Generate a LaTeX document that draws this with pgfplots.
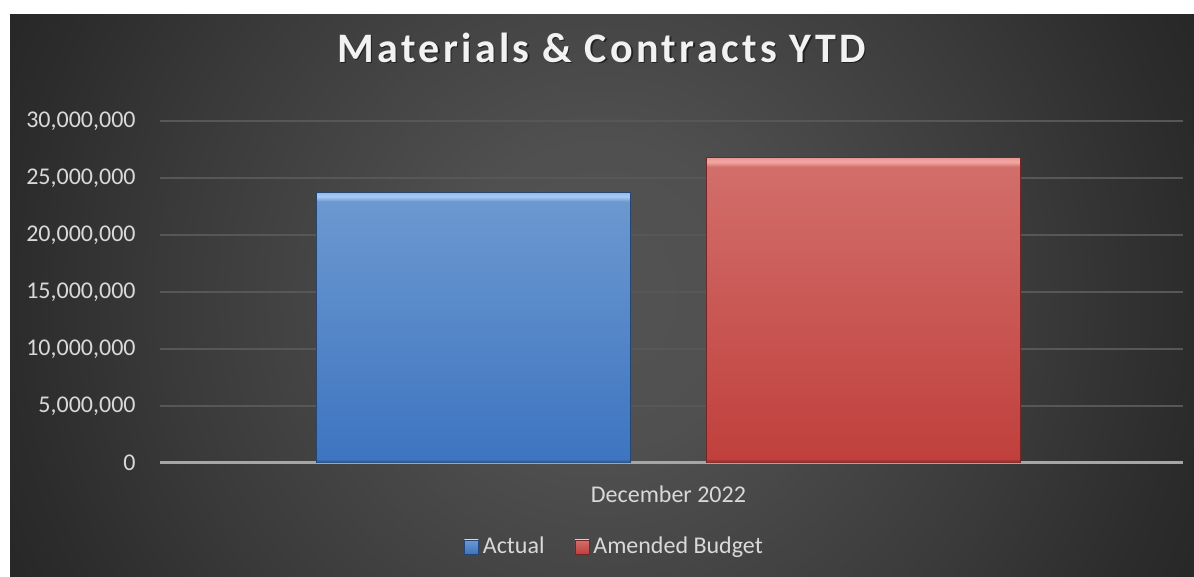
\documentclass[border=0pt]{standalone}
\usepackage{pgfplots}
\pgfplotsset{compat=1.18}
\usepackage{fontspec}
\setmainfont{Carlito}
\newfontfamily\titlefont[LetterSpace=8]{Carlito}

\definecolor{txt}{HTML}{D9D9D9}
\definecolor{gridc}{HTML}{575757}
\definecolor{zeroline}{HTML}{A6A6A6}
\definecolor{actTop}{HTML}{6C98D0}
\definecolor{actBot}{HTML}{3D75C0}
\definecolor{actHi}{HTML}{A9CBF4}
\definecolor{budTop}{HTML}{D26E6A}
\definecolor{budBot}{HTML}{C0403D}
\definecolor{budHi}{HTML}{F4A8A4}

% pgf maps the 25bp..75bp part of a shading onto the path's box
\pgfdeclareradialshading{bgshade}{\pgfpoint{0bp}{0bp}}{%
  color(0bp)=(rgb,255:red,83;green,83;blue,83);
  color(5.7bp)=(rgb,255:red,80;green,80;blue,80);
  color(9.5bp)=(rgb,255:red,72;green,72;blue,72);
  color(16.3bp)=(rgb,255:red,58;green,58;blue,58);
  color(22.3bp)=(rgb,255:red,44;green,44;blue,44);
  color(25bp)=(rgb,255:red,39;green,39;blue,39);
  color(50bp)=(rgb,255:red,39;green,39;blue,39)}
\pgfdeclareverticalshading{actshade}{100bp}{%
  color(0bp)=(actBot!65!black); color(25bp)=(actBot!65!black); color(25.7bp)=(actBot);
  color(73.4bp)=(actTop); color(74.3bp)=(actHi); color(75bp)=(actHi!70!actTop); color(100bp)=(actHi!70!actTop)}
\pgfdeclareverticalshading{budshade}{100bp}{%
  color(0bp)=(budBot!65!black); color(25bp)=(budBot!65!black); color(25.7bp)=(budBot);
  color(73.5bp)=(budTop); color(74.3bp)=(budHi); color(75bp)=(budHi!70!budTop); color(100bp)=(budHi!70!budTop)}

\begin{document}
\begin{tikzpicture}
\useasboundingbox (0,0) rectangle (597pt,288.5pt);
\fill[white] (0,0) rectangle (597pt,288.5pt);
\begin{scope}
\clip (5pt,0) rectangle (597pt,281pt);
\shade[shading=bgshade] (-29pt,-189.5pt) rectangle (631pt,470.5pt);
\end{scope}

\begin{axis}[
    at={(80pt,57pt)}, anchor=south west,
    scale only axis, width=511.5pt, height=171pt,
    xmin=-0.994, xmax=1.006, ymin=0, ymax=30000000,
    ybar=38pt, bar width=157pt,
    xtick={0}, xticklabels={December 2022},
    ytick={0,5000000,10000000,15000000,20000000,25000000,30000000},
    extra y ticks={0}, extra y tick labels={},
    extra y tick style={grid style={draw=zeroline, line width=1.5pt}},
    scaled y ticks=false,
    /pgf/number format/assume math mode=true,
    yticklabel style={/pgf/number format/fixed, /pgf/number format/1000 sep={,},
        inner sep=0pt, xshift=-12pt, anchor=east},
    xticklabel style={inner sep=0pt, anchor=north, yshift=-11pt},
    tick label style={text=txt, font=\fontsize{12}{14}\selectfont},
    major tick length=0pt,
    axis line style={draw=none},
    ymajorgrids, grid style={draw=gridc, line width=0.75pt},
    legend columns=2,
    legend style={at={(axis description cs:0.4315,0)}, anchor=center, xshift=7pt, yshift=-42pt,
        draw=none, fill=none, text=txt, inner sep=0pt,
        font=\fontsize{12}{14}\selectfont,
        /tikz/every even column/.append style={column sep=13pt}},
    legend image code/.code={\path[#1] (0pt,-3.5pt) rectangle (7pt,3.5pt);},
]
\addplot[draw=actBot!60!black, line width=0.4pt, shading=actshade]
    coordinates {(0,23700000)};
\addplot[draw=budBot!60!black, line width=0.4pt, shading=budshade]
    coordinates {(0,26780000)};
\legend{Actual, Amended Budget}
\end{axis}

\node[text=black, opacity=0.5, font=\titlefont\bfseries\fontsize{21}{24}\selectfont] at (301.5pt,263.8pt) {Materials \& Contracts YTD};
\node[text=white!95!black, font=\titlefont\bfseries\fontsize{21}{24}\selectfont] at (300.75pt,264.5pt) {Materials \& Contracts YTD};
\end{tikzpicture}
\end{document}
